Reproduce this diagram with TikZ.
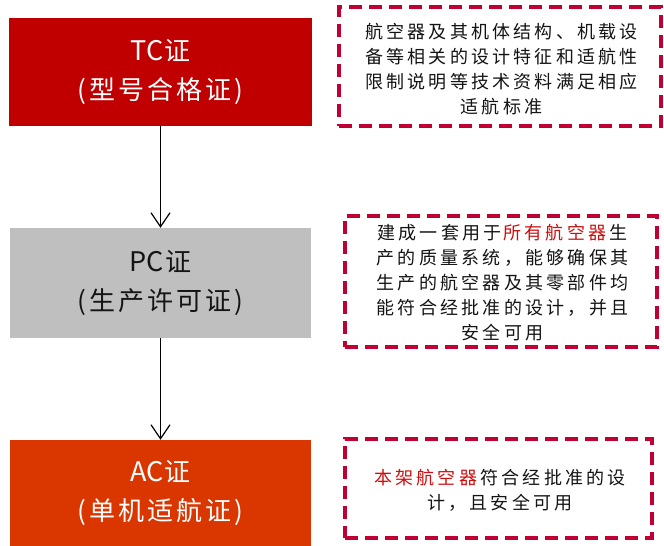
\documentclass[tikz,border=0pt]{standalone}
\usepackage{fontspec}
\usetikzlibrary{arrows.meta,calc}
\newfontfamily\cjkbig[LetterSpace=11.5]{Noto Sans CJK SC}
\newfontfamily\cjkplain{Noto Sans CJK SC}
\newfontfamily\cjksmall[LetterSpace=18]{Noto Sans CJK SC}
\definecolor{tcred}{RGB}{192,0,0}
\definecolor{pcgray}{RGB}{191,191,191}
\definecolor{acorange}{RGB}{217,54,0}
\definecolor{dashred}{RGB}{192,0,50}
\definecolor{hired}{RGB}{204,16,16}
\definecolor{txt}{RGB}{20,20,20}
\newcommand{\redpart}[1]{{\color{hired}#1}\kern3.24pt}
\newcommand{\lat}[1]{{\fontsize{27}{39}\selectfont\cjkplain #1}\kern1pt}
\begin{document}
\begin{tikzpicture}[x=1pt,y=-1pt,
  certbox/.style={rectangle, inner sep=0pt, align=center,
    font=\fontsize{26}{39}\selectfont\cjkbig},
  dbox/.style={rectangle, draw=dashred, line width=3.5pt,
    dash pattern=on 13pt off 7pt, inner sep=0pt},
  dtext/.style={align=center, inner sep=0pt, text=txt,
    font=\fontsize{18}{25}\selectfont\cjksmall},
  arr/.style={draw=black, line width=1.2pt,
    -{Straight Barb[length=14pt,width=19pt,line width=1.2pt]}}
]
\useasboundingbox (0,0) rectangle (664,546);
\fill[white] (0,0) rectangle (664,546);

\node[certbox, fill=tcred, text=white, minimum width=303pt, minimum height=108pt]
  (tc) at (160.5,72) {\lat{TC}证\\(型号合格证)};
\node[certbox, fill=pcgray, text=txt, minimum width=301pt, minimum height=110pt]
  (pc) at (160.5,283) {\lat{PC}证\\(生产许可证)};
\node[certbox, fill=acorange, text=white, minimum width=301pt, minimum height=106pt]
  (ac) at (160.5,493) {\lat{AC}证\\(单机适航证)};

\draw[arr] (tc.south) -- (pc.north);
\draw[arr] (pc.south) -- (ac.north);

\node[dbox, minimum width=322pt, minimum height=119pt] (d1) at (500,66.5) {};
\node[dtext] (t1) at ($(d1.center)+(1.5,3)$)
  {航空器及其机体结构、机载设\\备等相关的设计特征和适航性\\限制说明等技术资料满足相应\\适航标准};

\node[dbox, minimum width=312pt, minimum height=131pt] (d2) at (501,281.5) {};
\node[dtext] (t2) at ($(d2.center)+(1.5,1)$)
  {建成一套用于\kern1.6pt\redpart{所有航空器}生\\产的质量系统，能够确保其\\生产的航空器及其零部件均\\能符合经批准的设计，并且\\安全可用};

\node[dbox, minimum width=307pt, minimum height=99pt] (d3) at (498.5,488.5) {};
\node[dtext] (t3) at ($(d3.center)+(1.5,2)$)
  {\redpart{本架航空器}符合经批准的设\\计，且安全可用};
\end{tikzpicture}
\end{document}
